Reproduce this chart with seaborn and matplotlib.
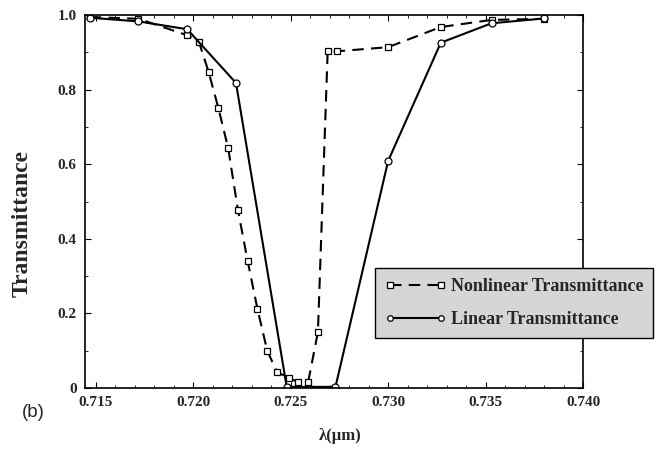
import matplotlib
matplotlib.use("Agg")
import matplotlib.pyplot as plt
import seaborn as sns
import pandas as pd
from matplotlib.ticker import MultipleLocator, FixedLocator, FixedFormatter

# Data
lin_x = [0.7147, 0.7172, 0.7197, 0.7222, 0.7248, 0.7273, 0.7300, 0.7327, 0.7353, 0.7380]
lin_y = [0.993, 0.983, 0.962, 0.818, 0.003, 0.003, 0.609, 0.926, 0.978, 0.991]

nl_x = [0.7147, 0.7172, 0.7197, 0.7203, 0.7208, 0.7213, 0.7218, 0.7223, 0.7228, 0.7233,
        0.7238, 0.7243, 0.7249, 0.7254, 0.7259, 0.7264, 0.7269, 0.7274, 0.7300, 0.7327,
        0.7353, 0.7380]
nl_y = [0.995, 0.990, 0.946, 0.928, 0.847, 0.750, 0.643, 0.477, 0.340, 0.212,
        0.100, 0.043, 0.027, 0.016, 0.016, 0.150, 0.903, 0.903, 0.914, 0.968,
        0.987, 0.990]

x_ticks = [0.715, 0.720, 0.725, 0.730, 0.735, 0.740]
x_tick_labels = ["0.715", "0.720", "0.725", "0.730", "0.735", "0.740"]
y_ticks = [0, 0.2, 0.4, 0.6, 0.8, 1.0]
y_tick_labels = ["0", "0.2", "0.4", "0.6", "0.8", "1.0"]

sns.set_theme(style="white")
plt.rcParams['font.family'] = ['Liberation Serif', 'DejaVu Serif']

fig = plt.figure(figsize=(6.59, 4.57), dpi=100)
ax = fig.add_axes([0.129, 0.151, 0.756, 0.816])

df_nl = pd.DataFrame({"x": nl_x, "y": nl_y})
df_lin = pd.DataFrame({"x": lin_x, "y": lin_y})

sns.lineplot(data=df_nl, x="x", y="y", ax=ax, sort=False, estimator=None,
             color="black", linewidth=1.5, linestyle=(0, (5.5, 3.5)), marker="s",
             markersize=5, markerfacecolor="white", markeredgecolor="black",
             markeredgewidth=0.9, label="Nonlinear Transmittance")
sns.lineplot(data=df_lin, x="x", y="y", ax=ax, sort=False, estimator=None,
             color="black", linewidth=1.5, linestyle="-", marker="o",
             markersize=5, markerfacecolor="white", markeredgecolor="black",
             markeredgewidth=0.9, label="Linear Transmittance")

ax.set_xlim(0.71446, 0.740)
ax.set_ylim(0, 1.0)
ax.xaxis.set_major_locator(FixedLocator(x_ticks))
ax.xaxis.set_major_formatter(FixedFormatter(x_tick_labels))
ax.yaxis.set_major_locator(FixedLocator(y_ticks))
ax.yaxis.set_major_formatter(FixedFormatter(y_tick_labels))
ax.xaxis.set_minor_locator(MultipleLocator(0.001))
ax.yaxis.set_minor_locator(MultipleLocator(0.1))
ax.tick_params(which="both", direction="in", top=True, right=True, bottom=True, left=True,
               color="black")
ax.tick_params(which="major", length=4, width=0.8, labelsize=11, pad=6)
ax.tick_params(which="minor", length=2.5, width=0.6)
for lbl in ax.get_xticklabels() + ax.get_yticklabels():
    lbl.set_fontweight("bold")
for sp in ax.spines.values():
    sp.set_color("black")
    sp.set_linewidth(1.2)

ax.set_xlabel("")
ax.set_ylabel("")
fig.text(0.516, 0.045, "λ(μm)", ha="center", va="center", fontsize=12, fontweight="bold")
fig.text(0.034, 0.51, "Transmittance", ha="center", va="center", rotation=90,
         fontsize=17, fontweight="bold")
fig.text(0.051, 0.098, "(b)", ha="center", va="center", fontsize=13.5,
         family=["Liberation Sans", "DejaVu Sans"])

leg = ax.legend(loc="upper left", bbox_to_anchor=(375 / 659, 1 - 268 / 457),
                bbox_transform=fig.transFigure, frameon=True, fancybox=False,
                prop={"weight": "bold", "size": 13}, handlelength=3.4, numpoints=2,
                borderpad=0.55, labelspacing=0.9, handletextpad=0.25,
                borderaxespad=0, markerscale=0.8)
fr = leg.get_frame()
fr.set_facecolor("#d6d6d6")
fr.set_edgecolor("black")
fr.set_linewidth(1.0)
fr.set_alpha(1.0)

fig.savefig("out.png", dpi=100)
